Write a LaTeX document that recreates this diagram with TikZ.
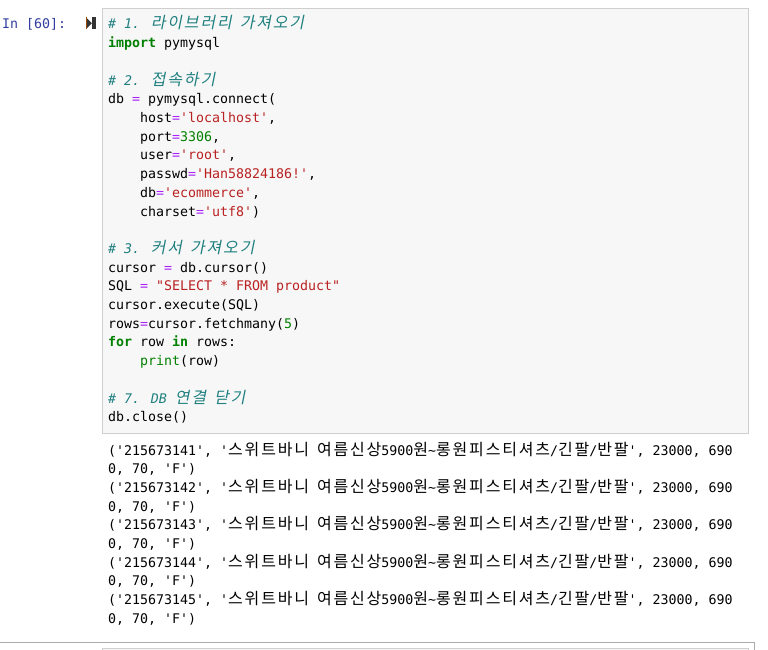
\documentclass[tikz,border=0pt]{standalone}
\usepackage{fontspec}
\newfontfamily\monofam{DejaVu Sans Mono}
\newfontfamily\krfam[Scale=1.2041,LetterSpace=11.4]{Noto Sans CJK KR}
\newfontfamily\kritfam[Scale=1.2041,LetterSpace=11.4,FakeSlant=0.2]{Noto Sans CJK KR}
\definecolor{cmc}{HTML}{208080}
\definecolor{kwc}{HTML}{008000}
\definecolor{stc}{HTML}{BA2121}
\definecolor{nmc}{HTML}{008000}
\definecolor{opc}{HTML}{AA22FF}
\definecolor{prc}{HTML}{303F9F}
\definecolor{boxbg}{HTML}{F7F7F7}
\definecolor{boxline}{HTML}{CFCFCF}
\definecolor{cellline}{HTML}{ABABAB}
\newcommand\codefont{\monofam\fontsize{13.288pt}{18.7pt}\selectfont}
\newcommand\K[1]{{\krfam #1}}
\newcommand\KI[1]{{\kritfam #1}}
\newcommand\Sq{\textquotesingle}
\newcommand\Dq{\textquotedbl}
\newcommand\Ccm[1]{{\color{cmc}\itshape #1}}
\newcommand\Ckw[1]{{\color{kwc}\bfseries #1}}
\newcommand\Cst[1]{{\color{stc}#1}}
\newcommand\Cnm[1]{{\color{nmc}#1}}
\newcommand\Cop[1]{{\color{opc}#1}}
\newcommand\outrow{(\Sq2156731}
\newcommand\outmid{\Sq, \Sq\K{스위트바니} \K{여름신상}5900\K{원}\textasciitilde\K{롱원피스티셔츠}/\K{긴팔}/\K{반팔}\Sq, 23000, 690}
\tikzset{
  codeline/.style={anchor=base west, inner sep=0pt, font=\codefont, text=black},
  promptline/.style={anchor=base west, inner sep=0pt, font=\codefont, text=prc},
  codebox/.style={fill=boxbg, draw=boxline, line width=0.8pt},
  cellborder/.style={draw=cellline, line width=0.8pt},
}
\begin{document}
\begin{tikzpicture}[x=1pt,y=-1pt]
\useasboundingbox (0,0) rectangle (768,650);
\fill[white] (0,0) rectangle (768,650);
% code box
\node[codebox, anchor=north west, minimum width=646pt, minimum height=424pt, inner sep=0pt] (box) at (102,8.5) {};
% prompt
\node[promptline] (prompt) at (2,29) {In [60]:};
% run icon
\fill[black!80] (86,17.5) -- (86,29) -- (92,23.25) -- cycle;
\fill[black!80] (92,17.5) rectangle (95.5,29);
\fill[orange!60!black] (86,17.5) rectangle (87,29);
% code lines
\node[codeline] (l1) at (108,29) {\Ccm{\# 1. \KI{라이브러리} \KI{가져오기}}};
\node[codeline] (l2) at (108,47.7) {\Ckw{import} pymysql};
\node[codeline] (l4) at (108,85.1) {\Ccm{\# 2. \KI{접속하기}}};
\node[codeline] (l5) at (108,103.8) {db \Cop{=} pymysql.connect(};
\node[codeline] (l6) at (140,122.5) {host\Cop{=}\Cst{\Sq localhost\Sq},};
\node[codeline] (l7) at (140,141.2) {port\Cop{=}\Cnm{3306},};
\node[codeline] (l8) at (140,159.9) {user\Cop{=}\Cst{\Sq root\Sq},};
\node[codeline] (l9) at (140,178.6) {passwd\Cop{=}\Cst{\Sq Han58824186!\Sq},};
\node[codeline] (l10) at (140,197.3) {db\Cop{=}\Cst{\Sq ecommerce\Sq},};
\node[codeline] (l11) at (140,216) {charset\Cop{=}\Cst{\Sq utf8\Sq})};
\node[codeline] (l13) at (108,253.4) {\Ccm{\# 3. \KI{커서} \KI{가져오기}}};
\node[codeline] (l14) at (108,272.1) {cursor \Cop{=} db.cursor()};
\node[codeline] (l15) at (108,290.8) {SQL \Cop{=} \Cst{\Dq SELECT * FROM product\Dq}};
\node[codeline] (l16) at (108,309.5) {cursor.execute(SQL)};
\node[codeline] (l17) at (108,328.2) {rows\Cop{=}cursor.fetchmany(\Cnm{5})};
\node[codeline] (l18) at (108,346.9) {\Ckw{for} row \Ckw{in} rows:};
\node[codeline] (l19) at (140,365.6) {\Cnm{print}(row)};
\node[codeline] (l21) at (108,403) {\Ccm{\# 7. DB \KI{연결} \KI{닫기}}};
\node[codeline] (l22) at (108,421.7) {db.close()};
% output
\node[codeline] (o1) at (108,455) {\outrow 41\outmid};
\node[codeline] (o1b) at (108,473.7) {0, 70, \Sq F\Sq)};
\node[codeline] (o2) at (108,492.4) {\outrow 42\outmid};
\node[codeline] (o2b) at (108,511.1) {0, 70, \Sq F\Sq)};
\node[codeline] (o3) at (108,529.8) {\outrow 43\outmid};
\node[codeline] (o3b) at (108,548.5) {0, 70, \Sq F\Sq)};
\node[codeline] (o4) at (108,567.2) {\outrow 44\outmid};
\node[codeline] (o4b) at (108,585.9) {0, 70, \Sq F\Sq)};
\node[codeline] (o5) at (108,604.6) {\outrow 45\outmid};
\node[codeline] (o5b) at (108,623.3) {0, 70, \Sq F\Sq)};
% next cell
\draw[cellborder] (-2,642.5) -- (754,642.5) -- (754,660);
\draw[codebox] (102,660) -- (102,648.5) -- (748,648.5) -- (748,660);
\end{tikzpicture}
\end{document}
